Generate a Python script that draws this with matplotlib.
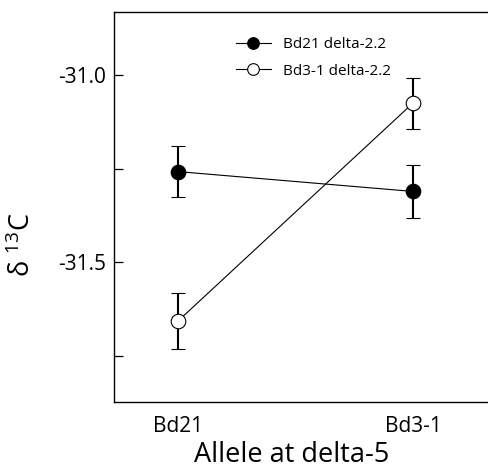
import matplotlib
matplotlib.use("Agg")
import matplotlib.pyplot as plt
from matplotlib.ticker import FixedLocator

# values
alleles = ["Bd21", "Bd3-1"]
bd21_mean = [-31.258, -31.311]
bd21_err = [0.067, 0.071]
bd31_mean = [-31.657, -31.075]
bd31_err = [0.075, 0.068]
yticks = [-31.75, -31.5, -31.25, -31.0]
ytick_labels = ["", "-31.5", "", "-31.0"]

plt.rcParams["font.family"] = ["Open Sans", "DejaVu Sans"]

fig = plt.figure(figsize=(4.88, 4.71), dpi=100)
ax = fig.add_axes([114 / 488, 69 / 471, 374 / 488, 390 / 471])

x = list(range(len(alleles)))

ax.errorbar(x, bd21_mean, yerr=bd21_err, fmt="-o", color="black", lw=0.8,
            ms=10.5, mfc="black", mec="black", mew=0.8,
            elinewidth=1.5, capsize=5, capthick=1.5, label="Bd21 delta-2.2")
ax.errorbar(x, bd31_mean, yerr=bd31_err, fmt="-o", color="black", lw=0.8,
            ms=10.5, mfc="white", mec="black", mew=0.8,
            elinewidth=1.5, capsize=5, capthick=1.5, label="Bd3-1 delta-2.2")

ax.set_xlim(-0.272, 1.319)
ax.set_ylim(-31.873, -30.832)

ax.yaxis.set_major_locator(FixedLocator(yticks))
ax.set_yticklabels(ytick_labels)
ax.tick_params(axis="y", direction="in", length=6.5, width=0.9, pad=6, labelsize=15)
ax.set_xticks(x)
ax.set_xticklabels(alleles)
ax.tick_params(axis="x", length=0, pad=10, labelsize=15)

ax.spines["right"].set_visible(False)
for s in ["left", "top", "bottom"]:
    ax.spines[s].set_linewidth(1.0)

ax.set_xlabel("Allele at delta-5", fontsize=19.5)
ax.xaxis.set_label_coords(0.476, -0.1)
ax.set_ylabel("δ $^{\\mathregular{13}}$C", fontsize=19.5)
ax.yaxis.set_label_coords(-0.205, 0.403)

# legend: handles only with markers and line, no error bars
handles, labels = ax.get_legend_handles_labels()
handles = [h[0] for h in handles]
ax.legend(handles, labels, loc="upper left", bbox_to_anchor=(0.326, 0.935),
          frameon=False, fontsize=11, handlelength=2.3, handletextpad=0.75,
          labelspacing=0.75, borderpad=0, borderaxespad=0, markerscale=0.8)

fig.savefig("out.png", dpi=100)
